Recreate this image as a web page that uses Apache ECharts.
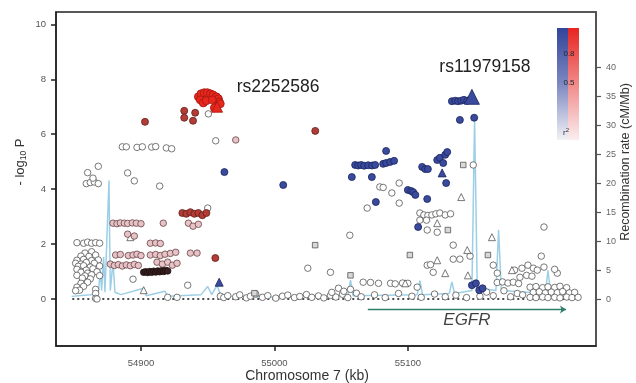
<!DOCTYPE html>
<html>
<head>
<meta charset="utf-8">
<script src="https://cdn.jsdelivr.net/npm/echarts@6/dist/echarts.min.js"></script>
<style>
  html, body { margin: 0; padding: 0; background: #fff; }
  #chart { width: 636px; height: 383px; }
</style>
</head>
<body>
<div id="chart"></div>
<script>
// axis ticks
const xTicks = [54900, 55000, 55100];
const pTicks = [0, 2, 4, 6, 8, 10];
const recTicks = [0, 5, 10, 15, 20, 25, 30, 35, 40];

// SNPs: [position kb, -log10 P]
const greyCircles = [
  [54852,2.05],[54857,2.03],[54860,2.07],[54863,2.03],[54866,2.05],[54869,2.03],
  [54859,4.2],[54862,4.24],[54865,4.26],[54868,4.2],[54860,4.6],[54868,4.83],[54864,4.4],
  [54858,1.67],[54863,1.72],[54855,1.56],[54861,1.55],[54866,1.6],
  [54852,1.41],[54857,1.44],[54863,1.4],[54868,1.42],
  [54851,1.3],[54855,1.27],[54859,1.33],[54865,1.3],
  [54853,1.19],[54857,1.21],[54862,1.16],[54869,1.2],
  [54852,1.08],[54859,1.05],[54864,1.1],
  [54855,0.97],[54860,0.94],[54867,0.99],
  [54852,0.86],[54858,0.84],[54863,0.88],[54869,0.85],
  [54856,0.76],[54862,0.73],[54855,0.57],[54860,0.61],
  [54852,0.43],[54857,0.46],[54854,0.32],[54866,0.35],[54866,0.2],[54866,0.02],[54851,0.3],
  [54886,5.54],[54889,5.54],[54897,5.52],[54901,5.54],[54908,5.53],[54911,5.55],[54919,5.5],[54923,5.47],
  [54890,4.59],[54895,4.3],[54914,4.11],
  [54950.5,6.74],[54956,5.76],[54950,3.31],[54894,0.72],[54935,0.5],[54867,0.0],
  [55025,1.12],[55042,0.97],
  [54920,0.06],[54927,0.06],[54959.5,0.1],[54962,0.05],[54965,0.12],[54971,0.08],[54974,0.15],
  [54979,0.04],[54982,0.1],[54986,0.18],[54991,0.06],[54995,0.12],[55001,0.03],[55006,0.1],
  [55010,0.14],[55015,0.05],[55019,0.09],[55024,0.16],[55028,0.06],[55033,0.11],[55037,0.04],
  [55042,0.13],[55046,0.07],[55051,0.17],[55055,0.05],
  [55079,4.08],[55081.5,4.06],[55088,3.86],[55093.5,4.22],[55093.5,3.49],[55069.5,3.31],[55149,4.88],
  [55109,3.13],[55112,3.06],[55115,3.04],[55118,3.06],[55121,3.1],[55124,3.13],[55128,3.06],[55132,3.1],
  [55109,2.87],[55114,2.87],[55114.5,2.51],[55122,2.43],[55056.5,2.32],
  [55134,1.96],[55114.5,1.23],[55117,1.25],[55119,0.97],[55134,1.45],[55139,1.45],[55146.6,1.56],
  [55164,1.23],[55167,0.94],[55200,1.56],[55212,0.94],[55202,2.62],[55202,1.16],[55210,1.08],
  [55180,1.05],[55185.5,1.12],[55190,1.23],[55194,1.12],[55197,1.05],[55184,0.79],[55189,0.86],[55193,0.83],
  [55066.5,0.61],[55072,0.6],[55078,0.57],[55087,0.57],[55090.5,0.55],[55096,0.58],[55100,0.57],[55107,0.43],
  [55043,0.24],[55048,0.39],[55052,0.28],[55057,0.35],[55061.5,0.21],
  [55065,0.08],[55075,0.15],[55083,0.05],[55093,0.2],[55103,0.1],[55110,0.06],[55120,0.18],
  [55128,0.08],[55136,0.14],[55144,0.05],
  [55167,0.6],[55171,0.62],[55175,0.58],[55179,0.61],[55183,0.56],
  [55191.6,0.43],[55196,0.45],[55201,0.41],[55205,0.44],[55210,0.42],[55214,0.46],[55219,0.41],
  [55194,0.24],[55198.5,0.26],[55203,0.22],[55207.5,0.25],[55212,0.23],[55216,0.27],[55221,0.22],[55225,0.24],
  [55191.6,0.06],[55196,0.05],[55201,0.07],[55205,0.05],[55210,0.06],[55214,0.04],[55219,0.07],
  [55223,0.05],[55227.6,0.06],
  [55154,0.1],[55159,0.25],[55164,0.12],[55172,0.3],[55177,0.08],[55182,0.2],[55186,0.15]
];
const greyTriangles = [
  [54902,0.32],[55140,3.71],[55122,2.76],[55163,2.25],[55122,1.41],[55128,0.94],
  [55144.5,1.78],[55098,0.57],[55178,1.05],[55145,0.86],[54892,2.25]
];
const greySquares = [
  [55030.5,1.96],[55141.5,4.88],[55130,2.51],[55101.5,1.6],[55160,1.6],[55057,0.86],[54985,0.21]
];
const pinkCircles = [
  [54879,2.76],[54882,2.74],[54884.5,2.77],[54887.5,2.76],[54890,2.75],[54893.5,2.77],[54896.5,2.76],
  [54900,2.74],[54916.7,2.76],[54890,2.36],[54895,2.29],
  [54907,2.03],[54911,2.04],[54914.5,2.02],
  [54881,1.6],[54884.5,1.62],[54890.5,1.58],[54894,1.6],[54897,1.63],[54900,1.58],[54907,1.6],
  [54911,1.62],[54914.5,1.58],[54918,1.63],[54922,1.66],[54926,1.7],[54937,1.67],[54942,1.67],
  [54877,1.27],[54880,1.22],[54883,1.25],[54886,1.2],[54889,1.24],[54892,1.21],[54895,1.26],[54898,1.22],
  [54912,1.34],[54916,1.27],[54920,1.34],[54923.5,1.23],[54927,1.3],
  [54935.5,2.76],[54939,2.65],[54943,2.72],[54971,5.79]
];
const darkRed = [
  [54932.4,6.85],[54940.6,6.78],[54932.4,6.6],[54939,6.49],[54903,6.45],[55030.6,6.12],
  [54931,3.13],[54934,3.1],[54937,3.16],[54940,3.1],[54943,3.13],[54946,3.05],[54949,3.13],
  [54955.7,1.49]
];
const blackRed = [
  [54902,0.97],[54903.5,0.99],[54905,0.96],[54906.5,1.0],[54908,0.97],[54909.5,1.01],[54911,0.98],
  [54912.5,1.02],[54914,0.99],[54915.5,1.03],[54917,1.0],[54918.5,1.04],[54920,1.02]
];
const brightRed = [
  [54943,7.36],[54945,7.47],[54947.4,7.51],[54949.7,7.51],[54952,7.47],[54954,7.43],[54956.5,7.36],
  [54958,7.29],[54958.6,7.18],[54944.4,7.25],[54946.7,7.14],[54949,7.22],[54953.4,7.25],
  [54957,7.04],[54955,6.96],[54959.4,7.11]
];
const navyCircles = [
  [55133,7.2],[55135.5,7.22],[55137.6,7.2],[55139.9,7.22],[55142,7.25],[55144.5,7.22],[55146.7,7.25],
  [55139,6.52],[55149.7,6.6],[55083.7,5.39],
  [55060.5,4.88],[55062.8,4.86],[55065,4.88],[55067.3,4.85],[55070.3,4.87],[55073.2,4.86],[55075.5,4.88],
  [55081.5,4.92],[55083.7,4.95],[55086.7,4.99],[55089.7,5.03],
  [55058,4.44],[55073,4.44],
  [55100,3.97],[55102.5,3.93],[55104,3.89],[55105.6,3.79],[55076,3.53],[55114.5,3.64],
  [55110.7,4.81],[55113,4.73],[55115,4.73],
  [55122,5.06],[55124,5.14],[55128,5.25],[55129.5,5.35],[55126.5,4.95],[55128.7,4.22],
  [55107.7,2.62],[54962.5,4.62],[55006.6,4.15],
  [55148,0.5],[55151,0.57],[55153.5,0.32],[55156,0.39]
];
const navyTriangles = [[55125.7,4.59],[54958.6,0.61]];

// lead SNPs
const leadNames = ['rs2252586', 'rs11979158'];
const leadRed = [[54957,7.0]];
const leadBlue = [[55148,7.36]];

// recombination rate: [position kb, cM/Mb]
const recRate = [
  [54848,0.5],[54862,0.8],[54868,1.0],[54869.5,5.0],[54870.5,1.5],[54872,7.3],[54873,1.2],
  [54876,20.5],[54877,1.5],[54879,6.4],[54880.5,1.2],[54885,0.8],[54902,1.9],[54904,0.6],
  [54918,1.4],[54920,0.5],[54945,0.8],[54950,2.2],[54953,0.8],[54957,2.4],[54960,0.5],
  [55000,0.4],[55055,0.6],[55057,3.3],[55059,0.6],[55107,0.8],[55109,3.2],[55111,0.8],
  [55131,1.0],[55133,3.0],[55135,1.0],[55148,1.5],[55150,31],[55152,2],[55166,1.5],
  [55168,12],[55170,1.5],[55203,1.0],[55205,5.0],[55207,1.0],[55225,0.5]
];

// genes
const genes = [{ name: 'EGFR', start: 55070, end: 55218.5 }];
const baselineSpan = [54848.5, 55221.5];

const geneY = -0.38;
const font = 'Liberation Sans, Arial, sans-serif';

function pts(data, symbol, size, fill, stroke, z) {
  return {
    type: 'scatter', data: data, symbol: symbol, symbolSize: size, z: z || 2,
    itemStyle: { color: fill, borderColor: stroke, borderWidth: 0.8, opacity: 1 },
    emphasis: { disabled: true }
  };
}

const chart = echarts.init(document.getElementById('chart'));
chart.setOption({
  animation: false,
  textStyle: { fontFamily: font },
  grid: { left: 56, right: 40, top: 12, bottom: 37, show: true, borderColor: '#222', borderWidth: 1.5 },
  xAxis: {
    type: 'value', min: 54836.3, max: 55241,
    axisLine: { show: true, onZero: false, lineStyle: { color: '#222', width: 1.5 } },
    axisTick: { show: true, customValues: xTicks, length: 5, lineStyle: { color: '#222', width: 1.5 } },
    axisLabel: { customValues: xTicks, fontSize: 9.5, color: '#555', margin: 12, formatter: v => String(v) },
    splitLine: { show: false }
  },
  yAxis: [{
    type: 'value', min: -1.713, max: 10.45, position: 'left',
    axisLine: { show: true, onZero: false, lineStyle: { color: '#222', width: 1.5 } },
    axisTick: { show: true, customValues: pTicks, length: 5, lineStyle: { color: '#222', width: 1.5 } },
    axisLabel: { customValues: pTicks, fontSize: 9.5, color: '#555', margin: 10 },
    splitLine: { show: false }
  }, {
    type: 'value', min: -8.06, max: 49.55, position: 'right',
    axisLine: { show: true, onZero: false, lineStyle: { color: '#555', width: 1.5 } },
    axisTick: { show: true, customValues: recTicks, length: 5, lineStyle: { color: '#555', width: 1.2 } },
    axisLabel: { customValues: recTicks, fontSize: 9, color: '#666', margin: 10 },
    splitLine: { show: false }
  }],
  graphic: [
    { type: 'text', x: 20, y: 162, rotation: Math.PI / 2, z: 10,
      style: { text: '- log{s|10} P', fill: '#333', font: '13px ' + font, align: 'center', verticalAlign: 'middle',
        rich: { s: { fontSize: 8.5, fill: '#333', padding: [7, 0, 0, 0] } } } },
    { type: 'text', x: 626, y: 162, rotation: Math.PI / 2, z: 10,
      style: { text: 'Recombination rate (cM/Mb)', fill: '#333', font: '12.5px ' + font, align: 'center', verticalAlign: 'middle' } },
    { type: 'text', x: 307, y: 376, z: 10,
      style: { text: 'Chromosome 7 (kb)', fill: '#333', font: '14px ' + font, align: 'center', verticalAlign: 'middle' } },
    { type: 'rect', shape: { x: 557, y: 28, width: 11, height: 112 }, z: 10,
      style: { fill: new echarts.graphic.LinearGradient(0, 0, 0, 1, [
        { offset: 0, color: '#33449a' }, { offset: 0.5, color: '#7d88c0' }, { offset: 1, color: '#f2f2f6' }]) } },
    { type: 'rect', shape: { x: 568, y: 28, width: 11, height: 112 }, z: 10,
      style: { fill: new echarts.graphic.LinearGradient(0, 0, 0, 1, [
        { offset: 0, color: '#e82420' }, { offset: 0.5, color: '#f08a88' }, { offset: 1, color: '#fbeef0' }]) } },
    { type: 'text', x: 569, y: 54, z: 11,
      style: { text: '0.8', fill: '#223', font: '8px ' + font, align: 'center', verticalAlign: 'middle' } },
    { type: 'text', x: 569, y: 83, z: 11,
      style: { text: '0.5', fill: '#223', font: '8px ' + font, align: 'center', verticalAlign: 'middle' } },
    { type: 'text', x: 566, y: 133, z: 11,
      style: { text: 'r{s|2}', fill: '#333', font: '8px ' + font, align: 'center', verticalAlign: 'middle',
        rich: { s: { fontSize: 6, fill: '#333', padding: [0, 0, 5, 0] } } } }
  ],
  series: [
    {
      type: 'line', yAxisIndex: 1, data: recRate, symbol: 'none', z: 1,
      lineStyle: { color: '#9ccfe6', width: 1.5 }, emphasis: { disabled: true }
    },
    {
      type: 'line', data: baselineSpan.map(x => [x, 0]), symbol: 'none', z: 1,
      lineStyle: { color: '#111', width: 1.6, type: [2, 3] }, emphasis: { disabled: true }
    },
    {
      type: 'lines', coordinateSystem: 'cartesian2d', z: 3,
      data: genes.map(g => ({ coords: [[g.start, geneY], [g.end, geneY]] })),
      symbol: ['none', 'arrow'], symbolSize: 6,
      lineStyle: { color: '#2f7d6b', width: 1.4, opacity: 1 }
    },
    {
      type: 'scatter', symbolSize: 0, z: 4, silent: true,
      data: genes.map(g => ({ name: g.name, value: [(g.start + g.end) / 2, geneY] })),
      label: { show: true, position: 'inside', offset: [0, 11], formatter: '{b}',
        fontSize: 17, fontStyle: 'italic', color: '#111', fontFamily: font }
    },
    pts(greyCircles, 'circle', 6.5, '#ffffff', '#555'),
    pts(greyTriangles, 'triangle', 7, '#ffffff', '#555'),
    pts(greySquares, 'rect', 5.5, '#d8d8d8', '#555'),
    pts(pinkCircles, 'circle', 6.5, '#e6c3c6', '#6a4246', 3),
    pts(blackRed, 'circle', 6.5, '#3a2020', '#1a0d0d', 3),
    pts(darkRed, 'circle', 7, '#b33d36', '#5e1e1c', 3),
    pts(brightRed, 'circle', 8, '#e8281e', '#a5170f', 4),
    pts(navyCircles, 'circle', 7, '#3a4a9c', '#1b255e', 4),
    pts(navyTriangles, 'triangle', 8, '#3a4a9c', '#1b255e', 4),
    Object.assign(pts(leadRed, 'triangle', 11, '#e8281e', '#a5170f', 5), {
      label: { show: true, formatter: leadNames[0], position: 'inside', offset: [61, -20],
        fontSize: 17.5, color: '#222', fontFamily: font }
    }),
    Object.assign(pts(leadBlue, 'triangle', 15, '#3a4a9c', '#1b255e', 5), {
      label: { show: true, formatter: leadNames[1], position: 'inside', offset: [13, -30],
        fontSize: 17.5, color: '#222', fontFamily: font }
    })
  ]
});
</script>
</body>
</html>
